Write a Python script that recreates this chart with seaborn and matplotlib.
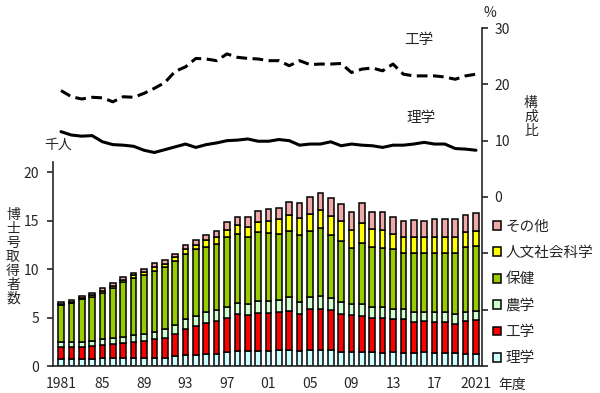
import numpy as np
import pandas as pd
import matplotlib
matplotlib.use("Agg")
import matplotlib.pyplot as plt
import seaborn as sns

# 年度
years = list(range(1981, 2022))

# 博士号取得者数 (千人) by field
rigaku = [0.76, 0.76, 0.76, 0.76, 0.83, 0.83, 0.83, 0.83, 0.83, 0.83,
          0.83, 1.00, 1.10, 1.10, 1.21, 1.28, 1.45, 1.55, 1.55, 1.55,
          1.55, 1.62, 1.62, 1.55, 1.62, 1.62, 1.62, 1.48, 1.45, 1.48,
          1.41, 1.38, 1.41, 1.34, 1.34, 1.41, 1.34, 1.34, 1.34, 1.28, 1.28]
kogaku = [1.21, 1.21, 1.21, 1.31, 1.38, 1.48, 1.59, 1.66, 1.79, 1.93,
          2.10, 2.34, 2.76, 3.00, 3.24, 3.38, 3.55, 3.86, 3.72, 3.93,
          3.93, 3.90, 4.07, 3.86, 4.21, 4.21, 4.14, 3.93, 3.79, 3.72,
          3.59, 3.62, 3.45, 3.52, 3.24, 3.24, 3.24, 3.24, 3.03, 3.31, 3.45]
nogaku = [0.52, 0.52, 0.52, 0.55, 0.62, 0.59, 0.55, 0.72, 0.72, 0.72,
          0.90, 0.86, 1.03, 1.03, 1.14, 1.07, 1.10, 1.10, 1.10, 1.24,
          1.24, 1.28, 1.38, 1.24, 1.31, 1.38, 1.24, 1.24, 1.14, 1.17,
          1.10, 1.10, 1.03, 0.97, 0.97, 0.93, 0.97, 0.97, 0.97, 0.93, 0.97]
hoken = [3.79, 3.97, 4.38, 4.45, 4.72, 5.10, 5.66, 5.83, 6.03, 6.34,
         6.34, 6.62, 6.62, 6.90, 6.66, 6.83, 7.17, 7.10, 6.97, 7.10,
         6.97, 6.83, 6.90, 6.90, 6.76, 6.97, 6.52, 6.24, 5.79, 6.34,
         6.17, 6.03, 6.14, 5.79, 6.14, 6.10, 6.14, 6.14, 6.34, 6.79, 6.69]
jinbun = [0.14, 0.14, 0.17, 0.21, 0.21, 0.24, 0.28, 0.31, 0.34, 0.41,
          0.38, 0.38, 0.52, 0.48, 0.72, 0.72, 0.79, 0.97, 1.03, 1.00,
          1.31, 1.48, 1.55, 1.72, 1.76, 1.90, 1.90, 2.03, 1.90, 2.00,
          1.86, 1.90, 1.59, 1.66, 1.66, 1.66, 1.66, 1.66, 1.59, 1.52, 1.52]
sonota = [0.14, 0.21, 0.17, 0.21, 0.24, 0.28, 0.28, 0.21, 0.31, 0.34,
          0.38, 0.34, 0.41, 0.48, 0.55, 0.66, 0.76, 0.83, 0.97, 1.21,
          1.17, 1.17, 1.38, 1.55, 1.72, 1.76, 1.86, 1.79, 1.79, 2.07,
          1.79, 1.83, 1.79, 1.72, 1.66, 1.66, 1.79, 1.79, 1.86, 1.72, 1.90]

# 構成比 (%)
kogaku_share = [18.9, 17.8, 17.4, 17.7, 17.6, 16.9, 17.8, 17.7, 18.4, 19.3,
                20.3, 22.3, 23.1, 24.6, 24.5, 24.2, 25.4, 24.8, 24.6, 24.5,
                24.2, 24.2, 23.3, 24.2, 23.5, 23.6, 23.6, 23.7, 22.1, 22.7,
                22.9, 22.4, 23.6, 21.8, 21.5, 21.5, 21.5, 21.3, 20.9, 21.5, 21.8]
rigaku_share = [11.6, 11.0, 10.8, 10.9, 9.8, 9.3, 9.2, 9.0, 8.3, 7.9,
                8.4, 8.9, 9.4, 8.8, 9.3, 9.6, 10.0, 10.1, 10.3, 9.9,
                9.9, 10.2, 10.0, 9.2, 9.4, 9.4, 9.8, 9.1, 9.4, 9.2,
                9.1, 8.8, 9.2, 9.2, 9.4, 9.7, 9.4, 9.4, 8.6, 8.5, 8.3]

fields = ["理学", "工学", "農学", "保健", "人文社会科学", "その他"]
colors = ["#CCFFFF", "#FF0000", "#CCFFCC", "#99CC00", "#FFFF00", "#F0A8A8"]

df = pd.DataFrame({"year": years, "理学": rigaku, "工学": kogaku, "農学": nogaku,
                   "保健": hoken, "人文社会科学": jinbun, "その他": sonota})
shares = pd.DataFrame({"idx": np.arange(len(years)),
                       "工学": kogaku_share, "理学": rigaku_share})

sns.set_style("ticks")
plt.rcParams['font.family'] = ['Noto Sans CJK JP', 'DejaVu Sans']

W, H = 600, 393
fig = plt.figure(figsize=(6, 3.93), dpi=100)
ax = fig.add_axes([53 / W, 1 - 366 / H, (482 - 53) / W, (366 - 28) / H])

x = np.arange(len(years))
bottom = np.zeros(len(years))
handles = []
for f, c in zip(fields, colors):
    b = ax.bar(x, df[f], bottom=bottom, width=0.55, color=c,
               edgecolor="black", linewidth=1.1, label=f)
    handles.append(b)
    bottom += df[f].values

ax.set_xlim(-0.77, 40.58)
ax.set_ylim(0, 34.85)
ax.set_yticks([0, 5, 10, 15, 20])
ax.spines['left'].set_bounds(0, 21)
ax.spines['top'].set_visible(False)
ax.spines['right'].set_visible(False)
for s in ['left', 'bottom']:
    ax.spines[s].set_linewidth(1.2)
ax.set_xticks(x[::4])
ax.set_xticklabels(['1981', '85', '89', '93', '97', '01', '05', '09', '13', '17', '2021'])
ax.tick_params(axis='x', length=0, pad=8, labelsize=10)
ax.tick_params(axis='y', length=4, width=1.2, pad=6, labelsize=10)

# 構成比 lines on right axis
ax2 = ax.twinx()
sns.lineplot(data=shares, x="idx", y="工学", ax=ax2, color="black",
             linewidth=2.2, linestyle=(0, (3.5, 1.8)))
sns.lineplot(data=shares, x="idx", y="理学", ax=ax2, color="black", linewidth=2.2)
ax2.set_ylim(-30, 30)
ax2.set_yticks([-30, -20, -10, 0, 10, 20, 30])
ax2.set_yticklabels(['', '', '', '0', '10', '20', '30'])
ax2.set_xlabel("")
ax2.set_ylabel("")
for s in ['left', 'top', 'bottom']:
    ax2.spines[s].set_visible(False)
ax2.spines['right'].set_linewidth(1.2)
ax2.tick_params(axis='y', length=4, width=1.2, pad=5, labelsize=10)

# legend
fig.legend(handles=handles[::-1], labels=fields[::-1], loc='center left',
           bbox_to_anchor=(493 / W, 1 - 292.5 / H), frameon=False,
           fontsize=10.5, handlelength=0.55, handleheight=0.55,
           handletextpad=0.3, labelspacing=0.85, borderpad=0, borderaxespad=0)


def ftext(px, py, s, **kw):
    fig.text(px / W, 1 - py / H, s, ha='center', va='center', **kw)


ftext(58, 145, "千人", fontsize=10)
ftext(13, 257, "\n".join("博士号取得者数"), fontsize=10, linespacing=1.0)
ftext(490, 13, "%", fontsize=10)
ftext(531, 117, "\n".join("構成比"), fontsize=10, linespacing=1.0)
ftext(419, 40, "工学", fontsize=10.5)
ftext(421, 118, "理学", fontsize=10.5)
ftext(512, 385, "年度", fontsize=10)

fig.savefig("out.png", dpi=100)
